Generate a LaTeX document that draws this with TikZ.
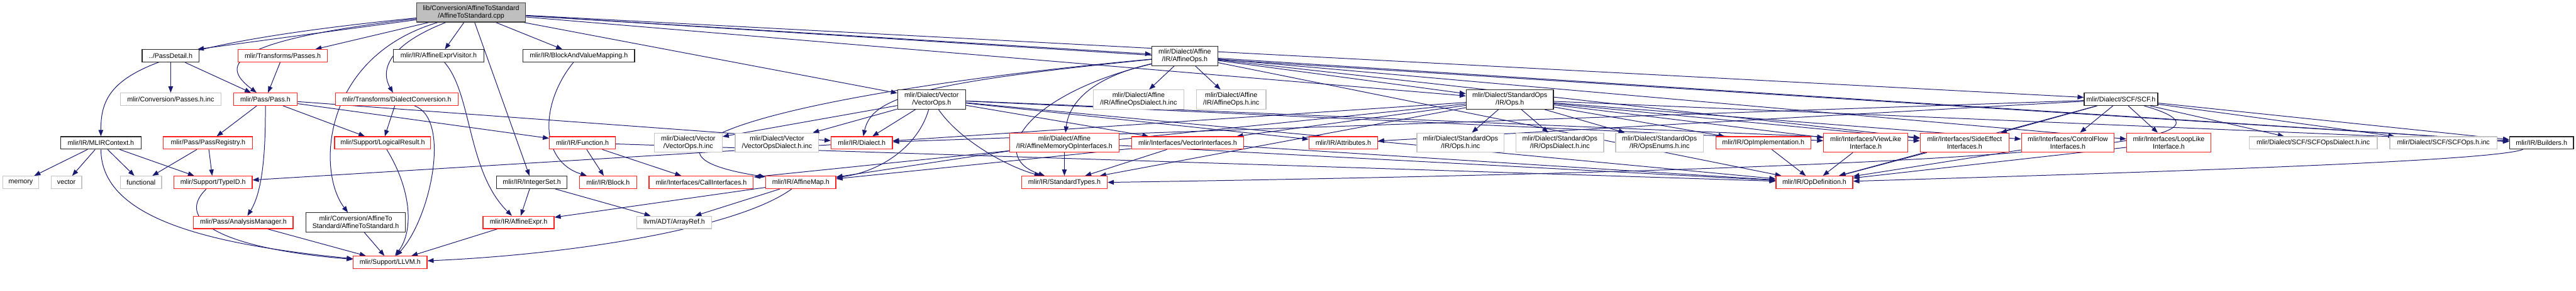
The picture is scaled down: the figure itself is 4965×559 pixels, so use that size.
\documentclass[tikz,border=0pt]{standalone}
\usepackage{fontspec}
\setmainfont{Liberation Sans}
\usetikzlibrary{arrows.meta,backgrounds}

\definecolor{edgeblue}{HTML}{191970}
\definecolor{extgray}{HTML}{C4C4C4}
\definecolor{rootgray}{HTML}{BFBFBF}
\definecolor{truncred}{HTML}{FF2020}

\begin{document}
\begin{tikzpicture}[x=1pt,y=-1pt,
    file/.style={draw, fill=white, line width=1.5pt, inner sep=0pt, minimum height=24,
      font=\fontsize{13}{14.5}\selectfont, align=center},
    wd/.style={minimum width=#1},
    two/.style={minimum height=37},
    plain/.style={file, draw=black!85},
    trunc/.style={file, draw=truncred},
    ext/.style={file, draw=extgray},
    root/.style={file, draw=black!75, fill=rootgray},
    inc/.style={edgeblue, line width=1.2pt, -{Triangle[length=12pt,width=9pt]}}]

  \useasboundingbox (0,0) rectangle (4965,559);

  % the file itself
  \node[root, wd=210, two] (cpp) at (908,24) {lib/Conversion/AffineToStandard\\/AffineToStandard.cpp};

  % first level
  \node[plain, wd=110] (passdetail) at (329,107.5) {../PassDetail.h};
  \node[trunc, wd=172] (tpasses) at (545,107.5) {mlir/Transforms/Passes.h};
  \node[plain, wd=175] (aevisitor) at (845.5,107.5) {mlir/IR/AffineExprVisitor.h};
  \node[plain, wd=215] (bvmap) at (1115.5,107.5) {mlir/IR/BlockAndValueMapping.h};
  \node[plain, wd=127, two] (affineops) at (2283.5,108) {mlir/Dialect/Affine\\/IR/AffineOps.h};

  % second level
  \node[ext, wd=194] (passinc) at (329,191) {mlir/Conversion/Passes.h.inc};
  \node[trunc, wd=123] (pass) at (511.5,191) {mlir/Pass/Pass.h};
  \node[trunc, wd=236] (dconv) at (765,191) {mlir/Transforms/DialectConversion.h};
  \node[plain, wd=131, two] (vectorops) at (1795.5,191.5) {mlir/Dialect/Vector\\/VectorOps.h};
  \node[ext, wd=175, two] (aopsdinc) at (2194.5,191.5) {mlir/Dialect/Affine\\/IR/AffineOpsDialect.h.inc};
  \node[ext, wd=134, two] (aopsinc) at (2373,191.5) {mlir/Dialect/Affine\\/IR/AffineOps.h.inc};
  \node[plain, wd=168, two] (stdops) at (2910,191.5) {mlir/Dialect/StandardOps\\/IR/Ops.h};
  \node[plain, wd=142] (scf) at (4088,191) {mlir/Dialect/SCF/SCF.h};

  % third level
  \node[plain, wd=155] (ctx) at (194.5,275) {mlir/IR/MLIRContext.h};
  \node[trunc, wd=172] (registry) at (401,275) {mlir/Pass/PassRegistry.h};
  \node[trunc, wd=185] (logical) at (737.5,275) {mlir/Support/LogicalResult.h};
  \node[trunc, wd=127] (function) at (1122.5,275) {mlir/IR/Function.h};
  \node[ext, wd=131, two] (vopsinc) at (1326.5,274.5) {mlir/Dialect/Vector\\/VectorOps.h.inc};
  \node[ext, wd=161, two] (vopsdinc) at (1497.5,274.5) {mlir/Dialect/Vector\\/VectorOpsDialect.h.inc};
  \node[trunc, wd=118] (dialect) at (1661,275) {mlir/IR/Dialect.h};
  \node[trunc, wd=211, two] (amemop) at (2051.5,274.5) {mlir/Dialect/Affine\\/IR/AffineMemoryOpInterfaces.h};
  \node[trunc, wd=216] (vecif) at (2289,275) {mlir/Interfaces/VectorInterfaces.h};
  \node[trunc, wd=132] (attrs) at (2589,275) {mlir/IR/Attributes.h};
  \node[ext, wd=168, two] (stdinc) at (2815,274.5) {mlir/Dialect/StandardOps\\/IR/Ops.h.inc};
  \node[ext, wd=169, two] (stddinc) at (3006.5,274.5) {mlir/Dialect/StandardOps\\/IR/OpsDialect.h.inc};
  \node[ext, wd=169, two] (stdenums) at (3198.5,274.5) {mlir/Dialect/StandardOps\\/IR/OpsEnums.h.inc};
  \node[trunc, wd=183] (opimpl) at (3398.5,275) {mlir/IR/OpImplementation.h};
  \node[trunc, wd=162, two] (viewlike) at (3596,274.5) {mlir/Interfaces/ViewLike\\Interface.h};
  \node[trunc, wd=171, two] (sideeff) at (3786.5,274.5) {mlir/Interfaces/SideEffect\\Interfaces.h};
  \node[trunc, wd=179, two] (ctrlflow) at (3985.5,274.5) {mlir/Interfaces/ControlFlow\\Interfaces.h};
  \node[trunc, wd=162, two] (looplike) at (4180,274.5) {mlir/Interfaces/LoopLike\\Interface.h};
  \node[ext, wd=247] (scfdinc) at (4458.5,275) {mlir/Dialect/SCF/SCFOpsDialect.h.inc};
  \node[ext, wd=207] (scfinc) at (4709.5,275) {mlir/Dialect/SCF/SCFOps.h.inc};
  \node[plain, wd=123] (builders) at (4898.5,275) {mlir/IR/Builders.h};

  % fourth level
  \node[ext, wd=69] (memory) at (40,351) {memory};
  \node[ext, wd=59] (vector) at (128,351) {vector};
  \node[ext, wd=79] (functional) at (272,351) {functional};
  \node[trunc, wd=151] (typeid) at (410.5,351) {mlir/Support/TypeID.h};
  \node[plain, wd=136] (integerset) at (1025,351) {mlir/IR/IntegerSet.h};
  \node[trunc, wd=110] (block) at (1172,351) {mlir/IR/Block.h};
  \node[trunc, wd=201] (callif) at (1351.5,351) {mlir/Interfaces/CallInterfaces.h};
  \node[trunc, wd=135] (affinemap) at (1543.5,351) {mlir/IR/AffineMap.h};
  \node[trunc, wd=165] (stdtypes) at (2051.5,351) {mlir/IR/StandardTypes.h};
  \node[trunc, wd=148] (opdef) at (3497,351) {mlir/IR/OpDefinition.h};

  % fifth level
  \node[trunc, wd=192] (amanager) at (469,428) {mlir/Pass/AnalysisManager.h};
  \node[plain, wd=191, two] (a2sh) at (685.5,428) {mlir/Conversion/AffineTo\\Standard/AffineToStandard.h};
  \node[trunc, wd=137] (affineexpr) at (999.5,428) {mlir/IR/AffineExpr.h};
  \node[ext, wd=145] (arrayref) at (1299.5,428) {llvm/ADT/ArrayRef.h};

  % bottom
  \node[trunc, wd=142] (llvm) at (752,505) {mlir/Support/LLVM.h};

  \begin{scope}[on background layer]
    % includes of the file itself
    \draw[inc] (cpp) .. controls (250,90) and (194,150) .. (ctx);
    \draw[inc] (cpp) -- ([xshift=-4pt]passdetail.north east);
    \draw[inc] (cpp) .. controls (420,80) and (430,130) .. (pass);
    \draw[inc] (cpp) -- ([xshift=-24pt]tpasses.north east);
    \draw[inc] (cpp) .. controls (620,110) and (610,330) .. ([xshift=-15pt]a2sh.north);
    \draw[inc] (cpp) .. controls (740,90) and (735,140) .. (dconv);
    \draw[inc] (cpp) -- ([xshift=12pt]aevisitor.north);
    \draw[inc] (cpp) -- (integerset);
    \draw[inc] (cpp) -- (bvmap);
    \draw[inc] (cpp) -- (vectorops);
    \draw[inc] (cpp) -- (affineops);
    \draw[inc] (cpp) -- (stdops);
    \draw[inc] (cpp) -- (scf);
    \draw[inc] (cpp) -- (builders);

    % pass side
    \draw[inc] (passdetail) -- (passinc);
    \draw[inc] (passdetail) -- (pass);
    \draw[inc] (tpasses) -- (pass);
    \draw[inc] (pass) -- (registry);
    \draw[inc] (pass) .. controls (512,300) and (505,370) .. (amanager);
    \draw[inc] (pass) -- (logical);
    \draw[inc] (pass) -- (function);
    \draw[inc] (pass) -- (dialect);
    \draw[inc] (dconv) -- (logical);
    \draw[inc] (dconv) .. controls (870,230) and (830,420) .. (llvm);
    \draw[inc] (ctx) -- (memory);
    \draw[inc] (ctx) -- (vector);
    \draw[inc] (ctx) -- (functional);
    \draw[inc] (ctx) -- (typeid);
    \draw[inc] (ctx) .. controls (195,420) and (400,470) .. (llvm);
    \draw[inc] (registry) -- (functional);
    \draw[inc] (registry) -- (typeid);
    \draw[inc] (typeid) .. controls (330,430) and (450,480) .. (llvm);
    \draw[inc] (amanager) -- (llvm);
    \draw[inc] (a2sh) -- (llvm);
    \draw[inc] (logical) .. controls (790,360) and (800,440) .. (llvm);

    % IR headers
    \draw[inc] (aevisitor) .. controls (910,180) and (900,330) .. (affineexpr);
    \draw[inc] (bvmap) .. controls (1040,200) and (1040,310) .. (block);
    \draw[inc] (integerset) -- (affineexpr);
    \draw[inc] (integerset) -- (arrayref);
    \draw[inc] (function) -- (block);
    \draw[inc] (function) -- (callif);
    \draw[inc] (function) -- (opdef);
    \draw[inc] (dialect) -- (typeid);
    \draw[inc] (affinemap) -- (affineexpr);
    \draw[inc] (affinemap) -- (arrayref);
    \draw[inc] (affinemap) .. controls (1420,440) and (1100,490) .. (llvm);
    \draw[inc] (affineexpr) -- (llvm);

    % vector dialect
    \draw[inc] (vectorops) -- (vopsinc);
    \draw[inc] (vectorops) -- (vopsdinc);
    \draw[inc] (vectorops) -- (dialect);
    \draw[inc] (vectorops) .. controls (1770,280) and (1700,330) .. (affinemap);
    \draw[inc] (vectorops) .. controls (1850,270) and (1940,320) .. (stdtypes);
    \draw[inc] (vectorops) -- (vecif);
    \draw[inc] (vectorops) -- (attrs);
    \draw[inc] (vectorops) -- (viewlike);
    \draw[inc] (vectorops) -- (sideeff);
    \draw[inc] (vectorops) -- (opdef);

    % affine dialect
    \draw[inc] (affineops) -- (aopsdinc);
    \draw[inc] (affineops) -- (aopsinc);
    \draw[inc] (affineops) .. controls (1760,160) and (1680,190) .. (dialect);
    \draw[inc] (affineops) .. controls (2100,150) and (2060,200) .. (amemop);
    \draw[inc] (affineops) .. controls (1980,180) and (1900,300) .. (stdtypes);
    \draw[inc] (affineops) .. controls (1500,180) and (1150,290) .. (affinemap);
    \draw[inc] (affineops) -- (stdops);
    \draw[inc] (affineops) -- (builders);
    \draw[inc] (affineops) -- (opdef);
    \draw[inc] (affineops) -- (sideeff);
    \draw[inc] (affineops) -- (looplike);
    \draw[inc] (amemop) -- (stdtypes);
    \draw[inc] (amemop) -- (affinemap);
    \draw[inc] (amemop) -- (opdef);
    \draw[inc] (vecif) -- (stdtypes);
    \draw[inc] (vecif) -- (affinemap);
    \draw[inc] (vecif) -- (opdef);

    % standard dialect
    \draw[inc] (stdops) -- (stdinc);
    \draw[inc] (stdops) -- (stddinc);
    \draw[inc] (stdops) -- (stdenums);
    \draw[inc] (stdops) -- (dialect);
    \draw[inc] (stdops) -- (stdtypes);
    \draw[inc] (stdops) -- (callif);
    \draw[inc] (stdops) -- (vecif);
    \draw[inc] (stdops) -- (opimpl);
    \draw[inc] (stdops) -- (viewlike);
    \draw[inc] (stdops) -- (sideeff);
    \draw[inc] (stdops) -- (ctrlflow);
    \draw[inc] (stdops) -- (builders);

    % scf dialect
    \draw[inc] (scf) -- (sideeff);
    \draw[inc] (scf) -- (ctrlflow);
    \draw[inc] (scf) -- (looplike);
    \draw[inc] (scf) -- (scfdinc);
    \draw[inc] (scf) -- (scfinc);
    \draw[inc] (scf) -- (builders);
    \draw[inc] (scf) -- (attrs);
    \draw[inc] (scf) -- (dialect);
    \draw[inc] (scf) -- (opdef);
    \draw[inc] (scf) .. controls (4330,260) and (4150,320) .. (stdtypes.east);

    % down to OpDefinition
    \draw[inc] (opimpl) -- (opdef);
    \draw[inc] (viewlike) -- (opdef);
    \draw[inc] (sideeff) -- (opdef);
    \draw[inc] (ctrlflow) -- (opdef);
    \draw[inc] (looplike) -- (opdef);
    \draw[inc] (builders) .. controls (4800,310) and (4200,330) .. (opdef);
  \end{scope}
\end{tikzpicture}
\end{document}
